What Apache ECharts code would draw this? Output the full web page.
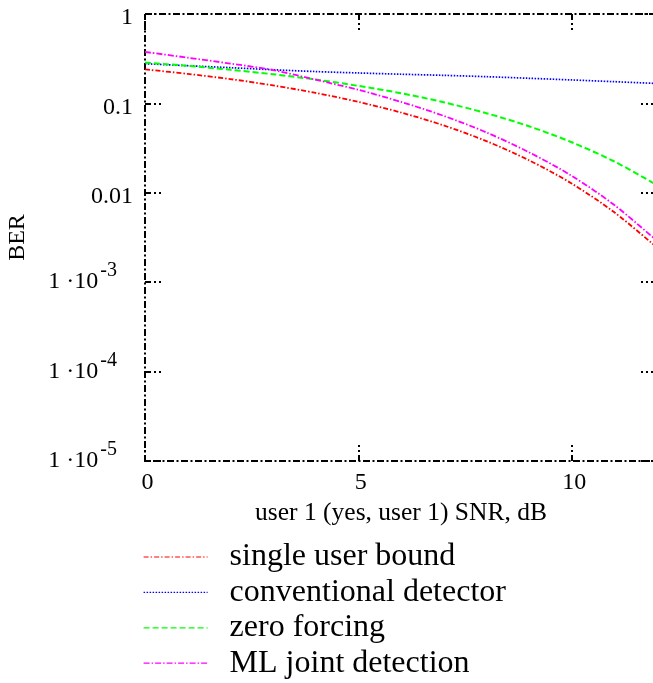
<!DOCTYPE html>
<html>
<head>
<meta charset="utf-8">
<script src="https://cdn.jsdelivr.net/npm/echarts@6/dist/echarts.min.js"></script>
<style>
html,body{margin:0;padding:0;background:#fff;}
#chart{width:653px;height:683px;}
</style>
</head>
<body>
<div id="chart"></div>
<script>
// ---- data ----
const snrDb = [0, 1, 2, 3, 4, 5, 6, 7, 8, 9, 10, 11, 12];
const singleUser   = [0.240, 0.214, 0.187, 0.159, 0.131, 0.104, 0.0791, 0.0567, 0.0379, 0.0231, 0.0127, 0.00605, 0.00244];
const conventional = [0.278, 0.264, 0.251, 0.238, 0.227, 0.219, 0.212, 0.206, 0.199, 0.191, 0.183, 0.175, 0.167];
const zeroForcing  = [0.286, 0.263, 0.238, 0.212, 0.185, 0.157, 0.130, 0.103, 0.0777, 0.0555, 0.0368, 0.0224, 0.0122];
const mlJoint      = [0.376, 0.325, 0.279, 0.236, 0.184, 0.142, 0.104, 0.0726, 0.0474, 0.0284, 0.0155, 0.0073, 0.0029];
const seriesNames  = ['single user bound', 'conventional detector', 'zero forcing', 'ML joint detection'];
const yTickValues  = [1, 0.1, 0.01, 1e-3, 1e-4, 1e-5];
const yTickText    = ['1', '0.1', '0.01', '1 ·10', '1 ·10', '1 ·10'];
const yTickExp     = ['', '', '', '-3', '-4', '-5'];
const xTickLabels  = ['0', '5', '10'];
const xAxisTitle   = 'user 1 (yes, user 1) SNR, dB';
const yAxisTitle   = 'BER';

const FONT = '"Liberation Serif", "Times New Roman", serif';
const frameDash = [7, 2.5, 2, 2.5];
const tickDash = [6, 3, 2, 3];
const pairs = arr => snrDb.map((x, i) => [x, arr[i]]);

function yLabel(v) {
  let idx = 0, best = Infinity;
  yTickValues.forEach((t, i) => {
    const d = Math.abs(Math.log10(t) - Math.log10(v));
    if (d < best) { best = d; idx = i; }
  });
  if (!yTickExp[idx]) return '{n|' + yTickText[idx] + '}';
  return '{b|' + yTickText[idx] + '}{s|' + yTickExp[idx] + '}';
}

const chart = echarts.init(document.getElementById('chart'), null, {renderer: 'canvas'});
const frameLine = {show: false, onZero: false};
const tickIn = {show: true, inside: true, length: 16, lineStyle: {color: '#000', width: 2, type: tickDash}};

chart.setOption({
  backgroundColor: '#fff',
  animation: false,
  grid: {
    left: 145, top: 14, width: 512, height: 447, containLabel: false, outerBoundsMode: 'none',
    show: true, borderColor: '#000', borderWidth: 2, borderType: frameDash, backgroundColor: 'transparent'
  },
  xAxis: [{
    type: 'value', min: 0, max: 12, interval: 5, position: 'bottom',
    axisLine: frameLine, axisTick: tickIn, splitLine: {show: false},
    axisLabel: {
      color: '#000', fontFamily: FONT, fontSize: 24, margin: 10,
      formatter: v => xTickLabels.includes(String(v)) ? String(v) : '',
      padding: [0, 0, 0, 5]
    },
    name: xAxisTitle, nameLocation: 'middle', nameGap: 38,
    nameTextStyle: {color: '#000', fontFamily: FONT, fontSize: 25.5}
  }, {
    type: 'value', min: 0, max: 12, interval: 5, position: 'top',
    axisLine: frameLine, axisTick: tickIn, splitLine: {show: false},
    axisLabel: {show: false}
  }],
  yAxis: [{
    type: 'log', logBase: 10, min: 1e-5, max: 1, position: 'left',
    axisLine: frameLine, axisTick: tickIn, splitLine: {show: false},
    minorTick: {show: false},
    axisLabel: {
      color: '#000', fontFamily: FONT, fontSize: 24, margin: 12,
      formatter: yLabel,
      rich: {
        n: {fontFamily: FONT, fontSize: 24, color: '#000', padding: [8, 0, 0, 0]},
        b: {fontFamily: FONT, fontSize: 24, lineHeight: 24, color: '#000', verticalAlign: 'bottom'},
        s: {fontFamily: FONT, fontSize: 20, lineHeight: 20, color: '#000', padding: [0, 16, 13, 2], verticalAlign: 'bottom'}
      }
    },
    name: yAxisTitle, nameLocation: 'middle', nameGap: 115, nameRotate: 90,
    nameTextStyle: {color: '#000', fontFamily: FONT, fontSize: 24}
  }, {
    type: 'log', logBase: 10, min: 1e-5, max: 1, position: 'right',
    axisLine: frameLine, axisTick: tickIn, splitLine: {show: false},
    axisLabel: {show: false}
  }],
  legend: {
    orient: 'vertical', left: 143, top: 541, height: 220, padding: 0,
    itemWidth: 64, itemHeight: 14, itemGap: 3.4,
    lineStyle: {width: 1.2},
    itemStyle: {opacity: 0, color: 'transparent', borderWidth: 0},
    textStyle: {color: '#000', fontFamily: FONT, fontSize: 32, lineHeight: 30, padding: [0, 0, 0, 17]},
    data: seriesNames
  },
  series: [
    {name: seriesNames[0], type: 'line', data: pairs(singleUser), symbol: 'none', showSymbol: false, smooth: 0.3,
     lineStyle: {color: '#ff0000', width: 1.8, type: [5, 2, 1.5, 2]}, itemStyle: {color: '#ff0000'}},
    {name: seriesNames[1], type: 'line', data: pairs(conventional), symbol: 'none', showSymbol: false, smooth: 0.3,
     lineStyle: {color: '#0000ff', width: 1.7, type: [1.5, 1.5]}, itemStyle: {color: '#0000ff'}},
    {name: seriesNames[2], type: 'line', data: pairs(zeroForcing), symbol: 'none', showSymbol: false, smooth: 0.3,
     lineStyle: {color: '#00ff00', width: 2, type: [6, 3]}, itemStyle: {color: '#00ff00'}},
    {name: seriesNames[3], type: 'line', data: pairs(mlJoint), symbol: 'none', showSymbol: false, smooth: 0.3,
     lineStyle: {color: '#ff00ff', width: 1.8, type: [6, 2, 1.5, 2]}, itemStyle: {color: '#ff00ff'}}
  ]
});
</script>
</body>
</html>
